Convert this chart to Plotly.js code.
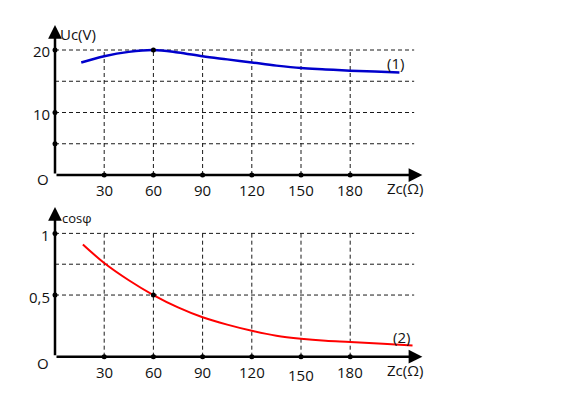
<!DOCTYPE html>
<html>
<head>
<meta charset="utf-8">
<script src="https://cdn.plot.ly/plotly-3.0.1.min.js"></script>
<style>html,body{margin:0;padding:0;background:#fff;}#chart{width:562px;height:397px;}</style>
</head>
<body>
<div id="chart"></div>
<script>
// ---- data ----
const xTicks = [30, 60, 90, 120, 150, 180];
const xTickLabels = ["30", "60", "90", "120", "150", "180"];

const ucX = [16, 30, 45, 60, 75, 90, 105, 120, 135, 150, 165, 180, 195, 210];
const ucY = [18.0, 19.0, 19.7, 20.0, 19.6, 19.0, 18.5, 18.0, 17.5, 17.1, 16.9, 16.7, 16.55, 16.4];

const cosX = [17, 30, 45, 60, 75, 90, 105, 120, 135, 150, 165, 180, 200, 218];
const cosY = [0.91, 0.76, 0.62, 0.50, 0.40, 0.32, 0.26, 0.21, 0.17, 0.146, 0.13, 0.12, 0.105, 0.09];

const topGridY = [20, 15, 10, 5];
const topDotY = [20, 10, 5];
const topTickVals = [20, 10];
const topTickLabels = ["20", "10"];

const botGridY = [1, 0.75, 0.5];
const botDotY = [1, 0.5];
const botTickVals = [1, 0.5];
const botTickLabels = ["1", "0,5"];

// ---- helpers ----
const X_MAX = 224, GRID_X_END = 219;
const TOP_Y_MAX = 24, BOT_Y_MAX = 1.214;
const FONT = "Open Sans, Noto Sans, sans-serif";

function gridTrace(xa, ya, hVals, vTop) {
  const xs = [], ys = [];
  hVals.forEach(v => { xs.push(0, GRID_X_END, null); ys.push(v, v, null); });
  xTicks.forEach(t => { xs.push(t, t, null); ys.push(0, vTop, null); });
  return {x: xs, y: ys, xaxis: xa, yaxis: ya, mode: 'lines', hoverinfo: 'skip',
    line: {color: '#1a1a1a', width: 1, dash: '4px,3px'}, showlegend: false};
}
function dotTrace(xa, ya, yDots, extraX, extraY) {
  const xs = xTicks.map(t => t).concat(yDots.map(() => 0)).concat([extraX]);
  const ys = xTicks.map(() => 0).concat(yDots).concat([extraY]);
  return {x: xs, y: ys, xaxis: xa, yaxis: ya, mode: 'markers', hoverinfo: 'skip',
    marker: {color: '#000', size: 5}, showlegend: false};
}

const traces = [
  gridTrace('x', 'y', topGridY, 20),
  gridTrace('x2', 'y2', botGridY, 1),
  {x: ucX, y: ucY, xaxis: 'x', yaxis: 'y', mode: 'lines', line: {color: '#0000CC', width: 2.5, shape: 'spline'}, showlegend: false},
  {x: cosX, y: cosY, xaxis: 'x2', yaxis: 'y2', mode: 'lines', line: {color: '#FF0000', width: 2, shape: 'spline'}, showlegend: false},
  dotTrace('x', 'y', topDotY, 60, 20),
  dotTrace('x2', 'y2', botDotY, 60, 0.5)
];

const ann = [];
function axisArrows(xr, yr, yMax) {
  ann.push({xref: xr, yref: yr, axref: xr, ayref: yr, x: X_MAX, y: 0, ax: 0, ay: 0,
    showarrow: true, arrowhead: 2, arrowsize: 1.1, arrowwidth: 2.5, arrowcolor: '#000', text: '', standoff: 0, startstandoff: 0});
  ann.push({xref: xr, yref: yr, axref: xr, ayref: yr, x: 0, y: yMax, ax: 0, ay: 0,
    showarrow: true, arrowhead: 2, arrowsize: 1.1, arrowwidth: 2.5, arrowcolor: '#000', text: '', standoff: 0, startstandoff: 0});
}
axisArrows('x', 'y', TOP_Y_MAX);
axisArrows('x2', 'y2', BOT_Y_MAX);

function txt(xr, yr, x, y, text, opts) {
  ann.push(Object.assign({xref: xr, yref: yr, x: x, y: y, text: text, showarrow: false,
    font: {family: FONT, size: 15, color: '#111'}}, opts || {}));
}
// x tick labels
xTickLabels.forEach((l, i) => {
  txt('x', 'y', xTicks[i], 0, l, {yanchor: 'middle', yshift: -15});
  txt('x2', 'y2', xTicks[i], 0, l, {yanchor: 'middle', yshift: l === "150" ? -18 : -15});
});
// y tick labels
topTickLabels.forEach((l, i) => txt('x', 'y', 0, topTickVals[i], l, {xanchor: 'right', xshift: -3, yanchor: 'middle', yshift: -1}));
botTickLabels.forEach((l, i) => txt('x2', 'y2', 0, botTickVals[i], l, {xanchor: 'right', xshift: -3, yanchor: 'middle', yshift: -2}));
// origins
txt('x', 'y', 0, 0, 'O', {xanchor: 'right', xshift: -4, yanchor: 'middle', yshift: -4});
txt('x2', 'y2', 0, 0, 'O', {xanchor: 'right', xshift: -4, yanchor: 'middle', yshift: -6});
// axis titles
txt('x', 'y', 0, 22.6, 'Uc(V)', {xanchor: 'left', xshift: 3, yanchor: 'middle'});
txt('x2', 'y2', 0, 1.125, 'cosφ', {xanchor: 'left', xshift: 5, yanchor: 'middle', font: {family: FONT, size: 13, color: '#111'}});
txt('x', 'y', 201, 0, 'Zc(Ω)', {xanchor: 'left', yanchor: 'middle', yshift: -13});
txt('x2', 'y2', 201, 0, 'Zc(Ω)', {xanchor: 'left', yanchor: 'middle', yshift: -13});
// curve labels
txt('x', 'y', 201, 17.9, '(1)', {xanchor: 'left', yanchor: 'middle'});
txt('x2', 'y2', 205, 0.162, '(2)', {xanchor: 'left', yanchor: 'middle'});

const xRange = [-55 / 1.64, (562 - 55) / 1.64];
const hidden = {visible: false, fixedrange: true};
const layout = {
  width: 562, height: 397,
  margin: {l: 0, r: 0, t: 0, b: 0},
  paper_bgcolor: '#fff', plot_bgcolor: '#fff',
  showlegend: false,
  xaxis: Object.assign({range: xRange, domain: [0, 1], anchor: 'y'}, hidden),
  yaxis: Object.assign({range: [-3.76, 28], domain: [0.5, 1], anchor: 'x'}, hidden),
  xaxis2: Object.assign({range: xRange, domain: [0, 1], anchor: 'y2'}, hidden),
  yaxis2: Object.assign({range: [-0.327, 1.283], domain: [0, 0.5], anchor: 'x2'}, hidden),
  annotations: ann
};
Plotly.newPlot('chart', traces, layout, {staticPlot: true, displayModeBar: false});
</script>
</body>
</html>
